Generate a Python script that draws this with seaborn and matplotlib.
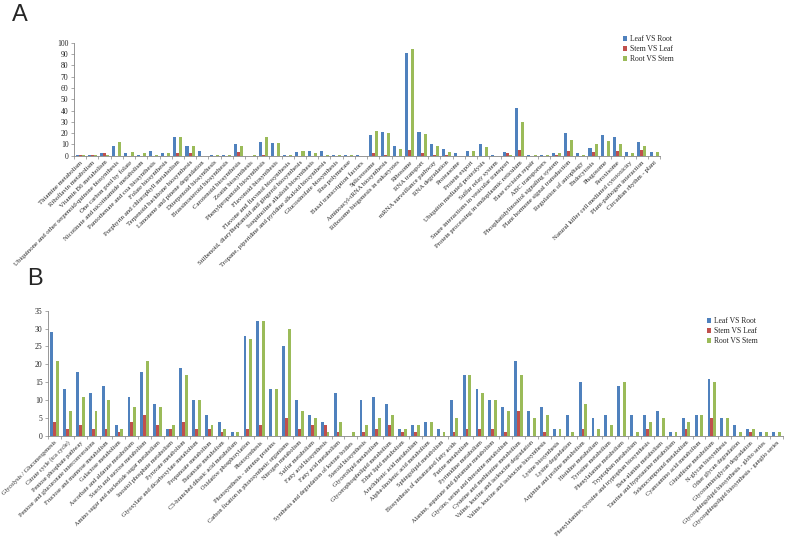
import numpy as np
import pandas as pd
import matplotlib.pyplot as plt
import seaborn as sns

# comparisons and Excel-2007 style colours
comparisons = ['Leaf VS Root', 'Stem VS Leaf', 'Root VS Stem']
colors = ['#4F81BD', '#C0504D', '#9BBB59']

# ---- Panel A ----
pathways_a = [
    'Thiamine metabolism', 'Riboflavin metabolism', 'Vitamin B6 metabolism',
    'Ubiquinone and other terpenoid-quinone biosynthesis', 'One carbon pool by folate',
    'Nicotinate and nicotinamide metabolism', 'Pantothenate and coa biosynthesis',
    'Folate biosynthesis', 'Porphyrin and chlorophyll metabolism',
    'Terpenoid backbone biosynthesis', 'Limonene and pinene degradation',
    'Diterpenoid biosynthesis', 'Brassinosteroid biosynthesis', 'Carotenoid biosynthesis',
    'Zeatin biosynthesis', 'Phenylpropanoid biosynthesis', 'Flavonoid biosynthesis',
    'Flavone and flavonol biosynthesis',
    'Stilbenoid, diarylheptanoid and gingerol biosynthesis',
    'Isoquinoline alkaloid biosynthesis',
    'Tropane, piperidine and pyridine alkaloid biosynthesis',
    'Glucosinolate biosynthesis', 'Rna polymerase', 'Basal transcription factors',
    'Spliceosome', 'Aminoacyl-tRNA biosynthesis', 'Ribosome biogenesis in eukaryotes',
    'Ribosome', 'RNA transport', 'mRNA surveillance pathway', 'RNA degradation',
    'Proteasome', 'Protein export', 'Ubiquitin mediated proteolysis',
    'Sulfur relay system', 'Snare interactions in vesicular transport',
    'Protein processing in endoplasmic reticulum', 'Base excision repair',
    'ABC transporters', 'Phosphatidylinositol signaling system',
    'Plant hormone signal transduction', 'Regulation of autophagy', 'Endocytosis',
    'Phagosome', 'Peroxisome', 'Natural killer cell mediated cytotoxicity',
    'Plant-pathogen interaction', 'Circadian rhythm - plant',
]
leaf_root_a = [1, 1, 2, 9, 2, 1, 4, 2, 17, 9, 4, 1, 1, 10, 0, 12, 11, 1, 3, 4, 4, 1, 1, 1,
               18, 21, 9, 91, 21, 10, 6, 2, 4, 10, 1, 3, 42, 1, 1, 2, 20, 2, 7, 18, 17, 3, 12, 3]
stem_leaf_a = [1, 1, 2, 0, 0, 0, 0, 0, 2, 2, 0, 0, 0, 3, 0, 1, 0, 0, 0, 0, 0, 0, 0, 0,
               2, 1, 0, 5, 2, 1, 1, 0, 0, 0, 0, 2, 5, 0, 0, 1, 4, 0, 3, 0, 4, 0, 5, 0]
root_stem_a = [1, 1, 1, 12, 3, 2, 1, 2, 17, 9, 0, 1, 1, 9, 1, 17, 11, 1, 4, 2, 1, 1, 1, 0,
               22, 20, 6, 94, 19, 9, 3, 0, 4, 8, 0, 1, 30, 1, 1, 2, 14, 1, 10, 13, 10, 2, 9, 3]

# ---- Panel B ----
pathways_b = [
    'Glycolysis / Gluconeogenesis', 'Citrate cycle (tca cycle)', 'Pentose phosphate pathway',
    'Pentose and glucuronate interconversions', 'Fructose and mannose metabolism',
    'Galactose metabolism', 'Ascorbate and aldarate metabolism',
    'Starch and sucrose metabolism', 'Amino sugar and nucleotide sugar metabolism',
    'Inositol phosphate metabolism', 'Pyruvate metabolism',
    'Glyoxylate and dicarboxylate metabolism', 'Propanoate metabolism',
    'Butanoate metabolism', 'C5-branched dibasic acid metabolism',
    'Oxidative phosphorylation', 'Photosynthesis', 'Photosynthesis - antenna proteins',
    'Carbon fixation in photosynthetic organisms', 'Nitrogen metabolism',
    'Sulfur metabolism', 'Fatty acid biosynthesis', 'Fatty acid metabolism',
    'Synthesis and degradation of ketone bodies', 'Steroid biosynthesis',
    'Glycerolipid metabolism', 'Glycerophospholipid metabolism', 'Ether lipid metabolism',
    'Arachidonic acid metabolism', 'Alpha-linolenic acid metabolism',
    'Sphingolipid metabolism', 'Biosynthesis of unsaturated fatty acids',
    'Purine metabolism', 'Pyrimidine metabolism',
    'Alanine, aspartate and glutamate metabolism',
    'Glycine, serine and threonine metabolism', 'Cysteine and methionine metabolism',
    'Valine, leucine and isoleucine degradation',
    'Valine, leucine and isoleucine biosynthesis', 'Lysine biosynthesis',
    'Lysine degradation', 'Arginine and proline metabolism', 'Histidine metabolism',
    'Tyrosine metabolism', 'Phenylalanine metabolism', 'Tryptophan metabolism',
    'Phenylalanine, tyrosine and tryptophan biosynthesis', 'Beta-alanine metabolism',
    'Taurine and hypotaurine metabolism', 'Selenocompound metabolism',
    'Cyanoamino acid metabolism', 'Glutathione metabolism', 'N-glycan biosynthesis',
    'Other glycan degradation', 'Glycosaminoglycan degradation',
    'Glycosphingolipid biosynthesis - globo series',
    'Glycosphingolipid biosynthesis - ganglio series',
]
leaf_root_b = [29, 13, 18, 12, 14, 3, 11, 18, 9, 2, 19, 10, 6, 4, 1, 28, 32, 13, 25, 10,
               6, 4, 12, 0, 10, 11, 9, 2, 3, 4, 2, 10, 17, 13, 10, 8, 21, 7, 8, 2,
               6, 15, 5, 6, 14, 6, 6, 7, 1, 5, 6, 16, 5, 3, 2, 1, 1]
stem_leaf_b = [4, 2, 3, 2, 2, 1, 4, 6, 3, 2, 4, 2, 2, 1, 0, 2, 3, 0, 5, 2,
               3, 3, 1, 0, 1, 2, 3, 1, 1, 0, 0, 1, 2, 2, 2, 1, 7, 0, 1, 0,
               0, 2, 0, 0, 0, 0, 2, 0, 0, 2, 0, 5, 0, 0, 1, 0, 0]
root_stem_b = [21, 7, 11, 7, 10, 2, 8, 21, 8, 3, 17, 10, 3, 2, 1, 27, 32, 13, 30, 7,
               5, 1, 4, 1, 3, 5, 6, 2, 3, 4, 1, 5, 17, 12, 10, 7, 17, 5, 6, 2,
               1, 9, 2, 3, 15, 1, 4, 5, 1, 4, 6, 15, 5, 1, 2, 1, 1]


def to_long(pathways, series):
    frames = [pd.DataFrame({'pathway': pathways, 'comparison': name, 'genes': vals})
              for name, vals in zip(comparisons, series)]
    return pd.concat(frames, ignore_index=True)


df_a = to_long(pathways_a, [leaf_root_a, stem_leaf_a, root_stem_a])
df_b = to_long(pathways_b, [leaf_root_b, stem_leaf_b, root_stem_b])

sns.set_theme(style='white')
plt.rcParams['font.family'] = ['Liberation Serif', 'DejaVu Serif']

fig = plt.figure(figsize=(7.9, 5.42), dpi=100)
ax_a = fig.add_axes([0.0937, 0.7127, 0.742, 0.2085])
ax_b = fig.add_axes([0.0608, 0.1956, 0.930, 0.2312])

axis_grey = '#868686'


def draw_panel(ax, pathways, data, ymax, ystep, width, label_size, legend_xy):
    sns.barplot(data=data, x='pathway', y='genes', hue='comparison', order=pathways,
                hue_order=comparisons, palette=colors, width=width, errorbar=None,
                saturation=1, linewidth=0, ax=ax)
    n = len(pathways)
    ax.set_xlim(-0.5, n - 0.5)
    ax.set_ylim(0, ymax)
    ax.set_yticks(np.arange(0, ymax + 1, ystep))
    ax.set_xticks(range(n))
    ax.set_xticklabels(pathways, rotation=45, ha='right', va='top',
                       rotation_mode='anchor', fontsize=label_size)
    ax.set_xticks(np.arange(-0.5, n, 1), minor=True)
    ax.tick_params(axis='x', which='major', length=0, pad=3)
    ax.tick_params(axis='x', which='minor', length=2.5, width=0.5, color=axis_grey,
                   direction='out', bottom=True)
    ax.tick_params(axis='y', length=2.5, width=0.5, color=axis_grey, labelsize=5.5,
                   pad=1.5, direction='out', left=True)
    ax.set_xlabel('')
    ax.set_ylabel('')
    for s in ['top', 'right']:
        ax.spines[s].set_visible(False)
    for s in ['left', 'bottom']:
        ax.spines[s].set_color(axis_grey)
        ax.spines[s].set_linewidth(0.6)
    sns.move_legend(ax, 'upper left', bbox_to_anchor=legend_xy,
                    bbox_transform=fig.transFigure, frameon=False, title=None,
                    fontsize=5.5, handlelength=0.6, handleheight=0.6,
                    handletextpad=0.4, labelspacing=0.3, borderpad=0)


draw_panel(ax_a, pathways_a, df_a, 100, 10, 0.75, 4.9, (619 / 790, 1 - 31 / 542))
draw_panel(ax_b, pathways_b, df_b, 35, 5, 0.66, 4.5, (703 / 790, 1 - 313 / 542))

fig.text(12 / 790, 1 - 4 / 542, 'A', fontsize=17, family='Liberation Sans', va='top')
fig.text(27 / 790, 1 - 268 / 542, 'B', fontsize=17, family='Liberation Sans', va='top')

plt.savefig('out.png', dpi=100)
